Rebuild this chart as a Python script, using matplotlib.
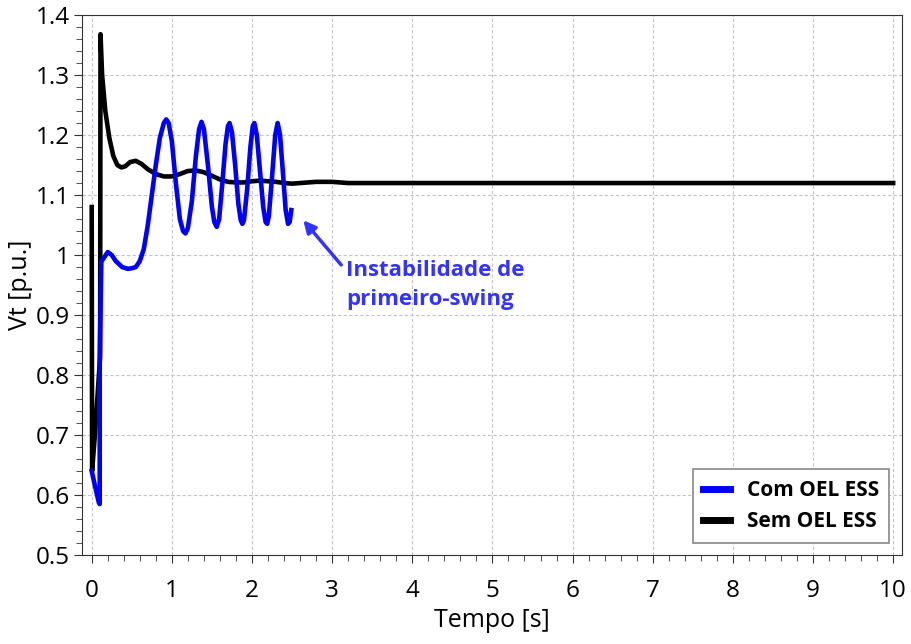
import matplotlib.pyplot as plt
from matplotlib.ticker import MultipleLocator

# Com OEL ESS (blue)
t_com = [0.0, 0.05, 0.09, 0.1, 0.1, 0.12, 0.14, 0.2, 0.25, 0.3, 0.38, 0.45, 0.5,
         0.55, 0.6, 0.65, 0.7, 0.75, 0.8, 0.85, 0.9, 0.93, 0.96, 1.0, 1.05, 1.1, 1.14,
         1.17, 1.2, 1.25, 1.3, 1.34, 1.37, 1.4, 1.45, 1.5, 1.53, 1.56, 1.59, 1.63,
         1.67, 1.7, 1.72, 1.75, 1.79, 1.83, 1.86, 1.88, 1.9, 1.94, 1.98, 2.01, 2.03,
         2.06, 2.1, 2.14, 2.17, 2.19, 2.21, 2.25, 2.29, 2.32, 2.35, 2.39, 2.42, 2.45,
         2.47, 2.49]
v_com = [0.64, 0.61, 0.587, 0.585, 0.83, 0.99, 0.993, 1.005, 1.0, 0.99, 0.98, 0.977, 0.978,
         0.98, 0.99, 1.01, 1.05, 1.10, 1.15, 1.195, 1.22, 1.226, 1.22, 1.19, 1.12, 1.06, 1.04,
         1.036, 1.045, 1.09, 1.165, 1.21, 1.222, 1.21, 1.15, 1.08, 1.055, 1.047, 1.06, 1.12,
         1.185, 1.215, 1.22, 1.205, 1.15, 1.085, 1.058, 1.052, 1.058, 1.11, 1.18, 1.215, 1.22,
         1.2, 1.14, 1.08, 1.055, 1.052, 1.065, 1.13, 1.2, 1.22, 1.2, 1.13, 1.075, 1.052,
         1.055, 1.075]

# Sem OEL ESS (black)
t_sem = [0.0, 0.005, 0.04, 0.08, 0.1, 0.105, 0.11, 0.13, 0.17, 0.22, 0.27, 0.32, 0.37, 0.42,
         0.48, 0.55, 0.62, 0.7, 0.8, 0.9, 1.0, 1.1, 1.2, 1.3, 1.4, 1.5, 1.6, 1.7, 1.8, 1.9,
         2.0, 2.1, 2.2, 2.3, 2.4, 2.5, 2.6, 2.8, 3.0, 3.2, 3.5, 10.0]
v_sem = [1.08, 0.64, 0.70, 0.78, 0.82, 0.83, 1.368, 1.30, 1.24, 1.195, 1.165, 1.15, 1.146,
         1.148, 1.155, 1.157, 1.152, 1.143, 1.135, 1.131, 1.131, 1.135, 1.14, 1.141, 1.138,
         1.132, 1.126, 1.122, 1.121, 1.121, 1.123, 1.124, 1.123, 1.122, 1.12, 1.119, 1.12,
         1.122, 1.122, 1.12, 1.12, 1.12]

plt.rcParams['font.family'] = ['Open Sans', 'DejaVu Sans']

fig = plt.figure(figsize=(9.12, 6.44), dpi=100)
ax = fig.add_axes([0.09, 0.138, 0.899, 0.8387])

ax.plot(t_com, v_com, color='#0000ff', lw=3.3, label='Com OEL ESS', zorder=3)
ax.plot(t_sem, v_sem, color='black', lw=3.3, label='Sem OEL ESS', zorder=2)

ax.set_xlim(-0.12, 10.11)
ax.set_ylim(0.5, 1.4)
ax.xaxis.set_major_locator(MultipleLocator(1))
ax.xaxis.set_minor_locator(MultipleLocator(0.2))
ax.yaxis.set_minor_locator(MultipleLocator(0.02))
ax.set_yticks([0.5, 0.6, 0.7, 0.8, 0.9, 1.0, 1.1, 1.2, 1.3, 1.4])
ax.set_yticklabels(['0.5', '0.6', '0.7', '0.8', '0.9', '1', '1.1', '1.2', '1.3', '1.4'])
ax.tick_params(which='major', labelsize=17.5, length=6, color='#333333')
ax.tick_params(axis='x', which='major', pad=11)
ax.tick_params(axis='y', which='major', pad=3)
ax.tick_params(which='minor', length=4, color='#333333')
ax.grid(True, which='major', color='#c4c4c4', linestyle=(0, (3, 2)), lw=0.8)
for s in ax.spines.values():
    s.set_color('#333333')

ax.set_xlabel('Tempo [s]', fontsize=18, labelpad=4)
ax.set_ylabel('Vt [p.u.]', fontsize=18, labelpad=2)

ax.annotate('Instabilidade de\nprimeiro-swing', xy=(2.64, 1.058), xytext=(3.17, 0.95),
            color='#3333ff', fontsize=16, fontweight='bold', va='center', ha='left',
            linespacing=1.45,
            arrowprops=dict(arrowstyle='-|>', color='#3333ff', lw=2.5, mutation_scale=18,
                            shrinkA=2, shrinkB=0, relpos=(0, 0.8)))

leg = ax.legend(loc='lower right', prop={'weight': 'bold', 'size': 15},
                fancybox=False, edgecolor='#888888', handlelength=1.3,
                handletextpad=0.8, borderaxespad=0.6, borderpad=0.5, framealpha=1)
leg.get_frame().set_linewidth(1.2)
for line in leg.get_lines():
    line.set_linewidth(5)

fig.savefig('out.png', dpi=100)
